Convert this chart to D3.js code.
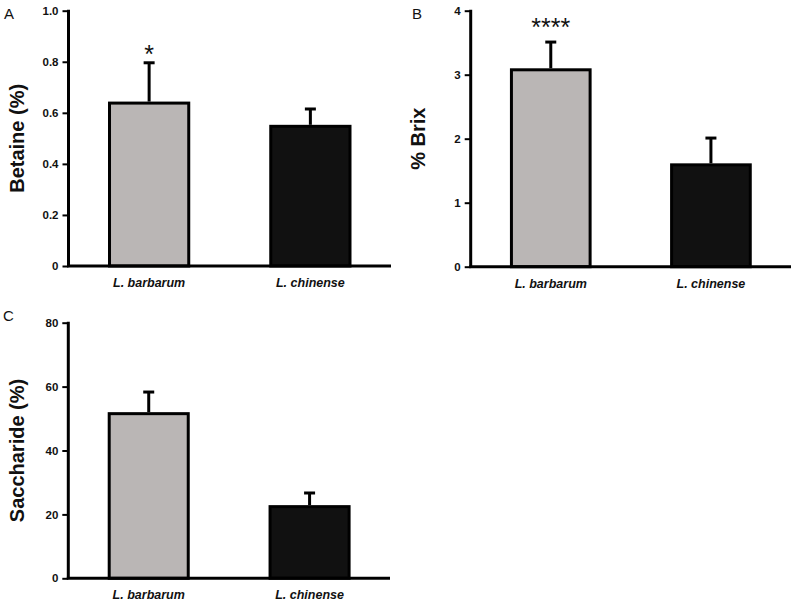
<!DOCTYPE html>
<html>
<head>
<meta charset="utf-8">
<script src="https://cdn.jsdelivr.net/npm/d3@7"></script>
<style>
  html, body { margin: 0; padding: 0; background: #ffffff; }
  svg { display: block; }
</style>
</head>
<body>
<svg id="chart" width="800" height="601"></svg>
<script>
// ---------------- DATA ----------------
const categories = ["L. barbarum", "L. chinense"];

const betaineMean = [0.644, 0.553];
const betaineErr  = [0.152, 0.062];
const betaineTicks = [0, 0.2, 0.4, 0.6, 0.8, 1.0];
const betaineTickLabels = ["0", "0.2", "0.4", "0.6", "0.8", "1.0"];
const betaineSig = ["*", ""];

const brixMean = [3.10, 1.615];
const brixErr  = [0.41, 0.395];
const brixTicks = [0, 1, 2, 3, 4];
const brixTickLabels = ["0", "1", "2", "3", "4"];
const brixSig = ["****", ""];

const sacchMean = [52.0, 22.9];
const sacchErr  = [6.3, 3.8];
const sacchTicks = [0, 20, 40, 60, 80];
const sacchTickLabels = ["0", "20", "40", "60", "80"];
const sacchSig = ["", ""];

const barColors = ["#bab6b5", "#111111"];

// ---------------- LAYOUT ----------------
const panels = [
  { letter: "A", title: "Betaine (%)", mean: betaineMean, err: betaineErr, ticks: betaineTicks,
    tickLabels: betaineTickLabels, sig: betaineSig, max: 1.0, sigOff: 0,
    x0: 68.5, x1: 391, yTop: 10.7, yZero: 266, letterX: 4, letterY: 18.5, titleX: 23.5 },
  { letter: "B", title: "% Brix", mean: brixMean, err: brixErr, ticks: brixTicks,
    tickLabels: brixTickLabels, sig: brixSig, max: 4, sigOff: -6,
    x0: 470.7, x1: 791, yTop: 10.7, yZero: 266.7, letterX: 412, letterY: 18.5, titleX: 425 },
  { letter: "C", title: "Saccharide (%)", mean: sacchMean, err: sacchErr, ticks: sacchTicks,
    tickLabels: sacchTickLabels, sig: sacchSig, max: 80, sigOff: 0,
    x0: 68.3, x1: 390, yTop: 322.7, yZero: 578.3, letterX: 3, letterY: 320.5, titleX: 23.5 }
];

const svg = d3.select("#chart");
const font = "Arial, 'Liberation Sans', Helvetica, sans-serif";

panels.forEach(p => {
  const g = svg.append("g");
  const y = d3.scaleLinear().domain([0, p.max]).range([p.yZero, p.yTop]);
  const x = d3.scaleBand().domain(categories).range([p.x0, p.x1])
    .paddingInner(0.49).paddingOuter(0.245);

  // panel letter
  g.append("text").attr("x", p.letterX).attr("y", p.letterY)
    .attr("font-family", font).attr("font-size", 15).attr("fill", "#111")
    .text(p.letter);

  // bars
  const sw = 3;
  categories.forEach((c, i) => {
    const cx = x(c) + x.bandwidth() / 2;
    // error bar (upper only)
    g.append("line").attr("x1", cx).attr("x2", cx)
      .attr("y1", y(p.mean[i])).attr("y2", y(p.mean[i] + p.err[i]))
      .attr("stroke", "#000").attr("stroke-width", 3);
    g.append("line").attr("x1", cx - 5.5).attr("x2", cx + 5.5)
      .attr("y1", y(p.mean[i] + p.err[i])).attr("y2", y(p.mean[i] + p.err[i]))
      .attr("stroke", "#000").attr("stroke-width", 3);
    g.append("rect")
      .attr("x", x(c) + sw / 2).attr("width", x.bandwidth() - sw)
      .attr("y", y(p.mean[i]) + sw / 2).attr("height", y(0) - y(p.mean[i]) - sw / 2)
      .attr("fill", barColors[i]).attr("stroke", "#000").attr("stroke-width", sw);
    if (p.sig[i]) {
      g.append("text").attr("x", cx).attr("y", y(p.mean[i] + p.err[i]) + p.sigOff)
        .attr("text-anchor", "middle")
        .attr("font-family", font).attr("font-size", 25).attr("fill", "#111")
        .text(p.sig[i]);
    }
  });

  // y axis
  const yAxis = d3.axisLeft(y).tickValues(p.ticks)
    .tickFormat((d, i) => p.tickLabels[i]).tickSize(6).tickSizeOuter(0).tickPadding(4);
  const ya = g.append("g").attr("transform", `translate(${p.x0},0)`).call(yAxis);
  ya.select(".domain").attr("stroke", "#000").attr("stroke-width", 3)
    .attr("d", `M0,${p.yTop - 1}V${p.yZero}`);
  ya.selectAll(".tick line").attr("stroke", "#000").attr("stroke-width", 2);
  ya.selectAll(".tick text").attr("font-family", font).attr("font-size", 11.5)
    .attr("font-weight", "bold").attr("fill", "#111");

  // x axis
  const xAxis = d3.axisBottom(x).tickSize(0).tickPadding(12);
  const xa = g.append("g").attr("transform", `translate(0,${p.yZero})`).call(xAxis);
  xa.select(".domain").attr("stroke", "#000").attr("stroke-width", 3)
    .attr("d", `M${p.x0 - 1.5},0H${p.x1}`);
  xa.selectAll(".tick text").attr("font-family", font).attr("font-size", 12.5)
    .attr("font-weight", "bold").attr("font-style", "italic").attr("fill", "#111");

  // y title
  g.append("text")
    .attr("transform", `translate(${p.titleX},${(p.yTop + p.yZero) / 2}) rotate(-90)`)
    .attr("text-anchor", "middle")
    .attr("font-family", font).attr("font-size", 20).attr("font-weight", "bold").attr("fill", "#111")
    .text(p.title);
});
</script>
</body>
</html>
